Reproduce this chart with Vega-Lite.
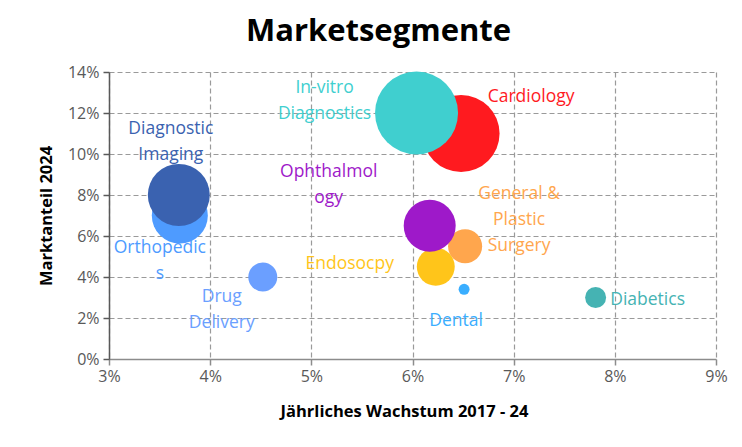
{
  "$schema": "https://vega.github.io/schema/vega-lite/v6.json",
  "width": 607,
  "height": 287,
  "autosize": {"type": "none"},
  "padding": {"left": 109, "top": 72, "right": 26, "bottom": 88},
  "background": "white",
  "title": {"text": "Marketsegmente", "fontSize": 31, "fontWeight": "bold", "font": "Open Sans", "color": "#000000", "anchor": "middle", "dx": -34, "offset": 16},
  "config": {
    "view": {"stroke": null},
    "text": {"font": "Open Sans", "fontSize": 17.5, "lineBreak": "\n", "lineHeight": 26, "align": "center", "baseline": "middle"},
    "axis": {
      "labelFont": "Open Sans", "labelFontSize": 16, "labelColor": "#595959", "labelFlush": false,
      "titleFont": "Open Sans", "titleFontSize": 16.5, "titleFontWeight": "bold", "titleColor": "#000000",
      "gridDash": [5, 3], "gridColor": "#9a9a9a", "gridWidth": 1.2, "gridOpacity": 1,
      "tickSize": 6, "domainWidth": 1.5, "tickWidth": 1.5
    }
  },
  "data": {
    "values": [
      {"Segment": "Cardiology", "Label": "Cardiology", "Wachstum": 0.0648, "Marktanteil": 0.110, "Marktvolumen": 59.3},
      {"Segment": "In-vitro Diagnostics", "Label": "In-vitro\nDiagnostics", "Wachstum": 0.0604, "Marktanteil": 0.120, "Marktvolumen": 68.9},
      {"Segment": "Orthopedics", "Label": "Orthopedic\ns", "Wachstum": 0.0370, "Marktanteil": 0.070, "Marktvolumen": 31.4},
      {"Segment": "Diagnostic Imaging", "Label": "Diagnostic\nImaging", "Wachstum": 0.0369, "Marktanteil": 0.080, "Marktvolumen": 38.4},
      {"Segment": "Endosocpy", "Label": "Endosocpy", "Wachstum": 0.0623, "Marktanteil": 0.045, "Marktvolumen": 14.4},
      {"Segment": "General & Plastic Surgery", "Label": "General &\nPlastic\nSurgery", "Wachstum": 0.0652, "Marktanteil": 0.055, "Marktvolumen": 11.6},
      {"Segment": "Ophthalmology", "Label": "Ophthalmol\nogy", "Wachstum": 0.0617, "Marktanteil": 0.065, "Marktvolumen": 27.0},
      {"Segment": "Drug Delivery", "Label": "Drug\nDelivery", "Wachstum": 0.0452, "Marktanteil": 0.040, "Marktvolumen": 8.4},
      {"Segment": "Dental", "Label": "Dental", "Wachstum": 0.0651, "Marktanteil": 0.034, "Marktvolumen": 1.2},
      {"Segment": "Diabetics", "Label": "Diabetics", "Wachstum": 0.0781, "Marktanteil": 0.030, "Marktvolumen": 4.4}
    ]
  },
  "encoding": {
    "x": {"field": "Wachstum", "type": "quantitative", "scale": {"domain": [0.03, 0.09], "nice": false, "zero": false},
      "axis": {"title": "Jährliches Wachstum 2017 - 24", "format": ".0%", "values": [0.03, 0.04, 0.05, 0.06, 0.07, 0.08, 0.09], "domainColor": "#8c8c8c", "tickColor": "#8c8c8c", "labelPadding": 3, "titlePadding": 19, "titleX": 295}},
    "y": {"field": "Marktanteil", "type": "quantitative", "scale": {"domain": [0, 0.14], "nice": false},
      "axis": {"title": "Marktanteil 2024", "format": ".0%", "values": [0, 0.02, 0.04, 0.06, 0.08, 0.1, 0.12, 0.14], "domainColor": "#595959", "tickColor": "#595959", "labelPadding": 4, "titlePadding": 13}},
    "color": {"field": "Segment", "type": "nominal", "legend": null,
      "scale": {
        "domain": ["Cardiology", "In-vitro Diagnostics", "Orthopedics", "Diagnostic Imaging", "Endosocpy", "General & Plastic Surgery", "Ophthalmology", "Drug Delivery", "Dental", "Diabetics"],
        "range": ["#FF1A1F", "#40CFCF", "#4E9BFF", "#3A62B0", "#FFC51A", "#FFA64D", "#9E19C9", "#6B9FFF", "#3AAEFF", "#45B3B3"]
      }}
  },
  "layer": [
    {
      "mark": {"type": "circle", "opacity": 1},
      "encoding": {
        "size": {"field": "Marktvolumen", "type": "quantitative", "legend": null, "scale": {"type": "linear", "domain": [0, 100], "range": [0, 10000], "zero": true}}
      }
    },
    {"transform": [{"filter": "datum.Segment === 'In-vitro Diagnostics'"}], "mark": {"type": "text", "dx": -92, "dy": -25}, "encoding": {"text": {"field": "Label"}}},
    {"transform": [{"filter": "datum.Segment === 'Cardiology'"}], "mark": {"type": "text", "dx": 70, "dy": -37}, "encoding": {"text": {"field": "Label"}}},
    {"transform": [{"filter": "datum.Segment === 'Diagnostic Imaging'"}], "mark": {"type": "text", "dx": -8, "dy": -66}, "encoding": {"text": {"field": "Label"}}},
    {"transform": [{"filter": "datum.Segment === 'Orthopedics'"}], "mark": {"type": "text", "dx": -20, "dy": 32}, "encoding": {"text": {"field": "Label"}}},
    {"transform": [{"filter": "datum.Segment === 'Drug Delivery'"}], "mark": {"type": "text", "dx": -41, "dy": 20}, "encoding": {"text": {"field": "Label"}}},
    {"transform": [{"filter": "datum.Segment === 'Ophthalmology'"}], "mark": {"type": "text", "dx": -101, "dy": -54}, "encoding": {"text": {"field": "Label"}}},
    {"transform": [{"filter": "datum.Segment === 'General & Plastic Surgery'"}], "mark": {"type": "text", "dx": 54, "dy": -52}, "encoding": {"text": {"field": "Label"}}},
    {"transform": [{"filter": "datum.Segment === 'Endosocpy'"}], "mark": {"type": "text", "dx": -86, "dy": -3}, "encoding": {"text": {"field": "Label"}}},
    {"transform": [{"filter": "datum.Segment === 'Dental'"}], "mark": {"type": "text", "dx": -8, "dy": 32}, "encoding": {"text": {"field": "Label"}}},
    {"transform": [{"filter": "datum.Segment === 'Diabetics'"}], "mark": {"type": "text", "dx": 52, "dy": 2}, "encoding": {"text": {"field": "Label"}}}
  ]
}
